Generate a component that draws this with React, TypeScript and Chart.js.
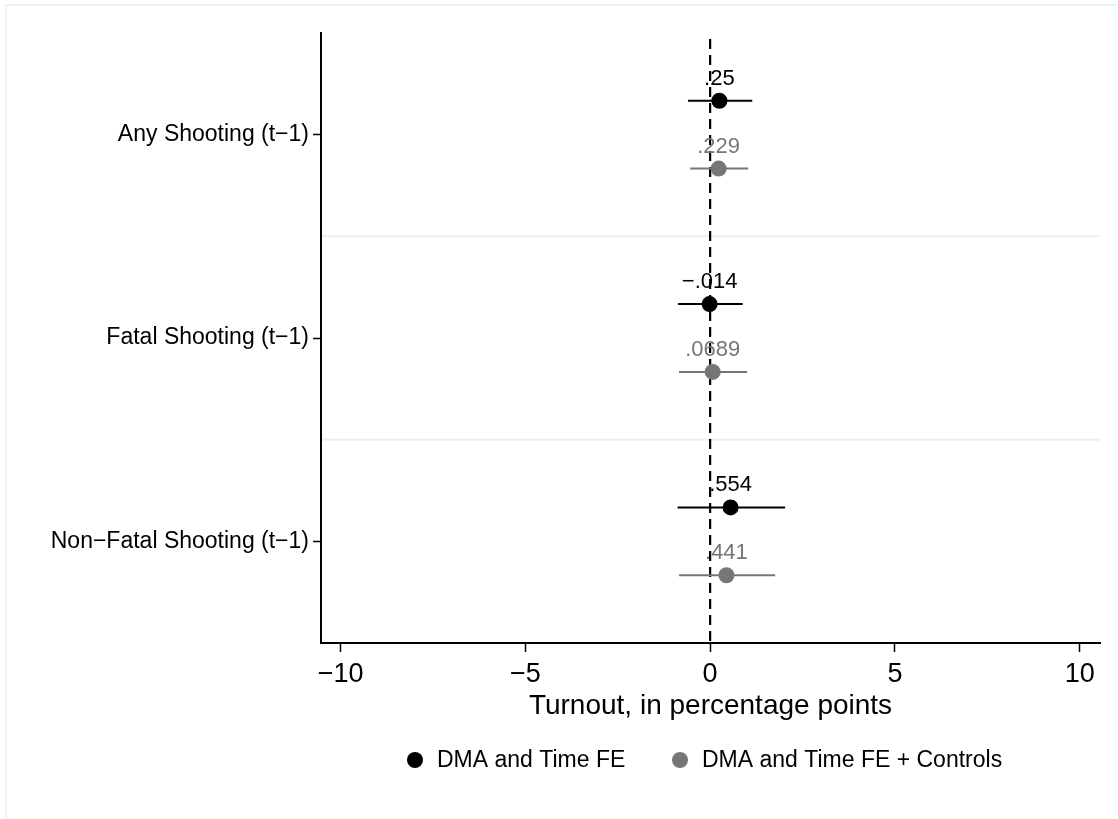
import React, { useEffect, useRef } from "react";
import { Chart, registerables } from "chart.js";

Chart.register(...registerables);

const categories = ["Any Shooting (t−1)", "Fatal Shooting (t−1)", "Non−Fatal Shooting (t−1)"];
const seriesNames = ["DMA and Time FE", "DMA and Time FE + Controls"];
const feValues = [0.25, -0.014, 0.554];
const feLow = [-0.6, -0.87, -0.88];
const feHigh = [1.14, 0.88, 2.03];
const ctrlValues = [0.229, 0.0689, 0.441];
const ctrlLow = [-0.54, -0.84, -0.84];
const ctrlHigh = [1.03, 1.0, 1.76];
const feLabels = [".25", "−.014", ".554"];
const ctrlLabels = [".229", ".0689", ".441"];
const xTicks = [-10, -5, 0, 5, 10];

const FONT = "'Liberation Sans', Arial, Helvetica, sans-serif";
const BLACK = "#000000";
const GRAY = "#767676";
const SEP = "#e9f0f2";
const OFFSET = 1 / 6;

export default function App() {
  const ref = useRef<HTMLCanvasElement>(null);

  useEffect(() => {
    document.body.style.margin = "0";
    const canvas = ref.current;
    if (!canvas) return;

    const ciSets: any[] = [];
    categories.forEach((_, i) => {
      ciSets.push({
        type: "line",
        data: [
          { x: feLow[i], y: i + 1 - OFFSET },
          { x: feHigh[i], y: i + 1 - OFFSET },
        ],
        borderColor: BLACK,
        borderWidth: 2,
        pointRadius: 0,
        showLine: true,
        order: 2,
      });
      ciSets.push({
        type: "line",
        data: [
          { x: ctrlLow[i], y: i + 1 + OFFSET },
          { x: ctrlHigh[i], y: i + 1 + OFFSET },
        ],
        borderColor: GRAY,
        borderWidth: 2,
        pointRadius: 0,
        showLine: true,
        order: 2,
      });
    });

    const decorations = {
      id: "decorations",
      beforeDatasetsDraw(chart: any) {
        const { ctx, chartArea, scales } = chart;
        const x = scales.x;
        const y = scales.y;
        ctx.save();
        ctx.strokeStyle = SEP;
        ctx.lineWidth = 2;
        [1.5, 2.5].forEach((v) => {
          const py = y.getPixelForValue(v);
          ctx.beginPath();
          ctx.moveTo(chartArea.left + 1, py);
          ctx.lineTo(chartArea.right, py);
          ctx.stroke();
        });
        const px = x.getPixelForValue(0);
        ctx.strokeStyle = BLACK;
        ctx.lineWidth = 2.2;
        ctx.setLineDash([10, 6]);
        ctx.beginPath();
        ctx.moveTo(px, chartArea.top + 6);
        ctx.lineTo(px, chartArea.bottom);
        ctx.stroke();
        ctx.restore();
      },
      afterDraw(chart: any) {
        const { ctx, chartArea } = chart;
        ctx.save();
        // outer frame
        ctx.strokeStyle = "#edf2f4";
        ctx.lineWidth = 2;
        ctx.beginPath();
        ctx.moveTo(6, 819);
        ctx.lineTo(6, 5);
        ctx.lineTo(1118, 5);
        ctx.stroke();

        // point labels
        const drawLabels = (dsIndex: number, labels: string[], color: string) => {
          const meta = chart.getDatasetMeta(dsIndex);
          ctx.fillStyle = color;
          ctx.font = `22px ${FONT}`;
          ctx.textAlign = "center";
          ctx.textBaseline = "alphabetic";
          meta.data.forEach((pt: any, j: number) => {
            ctx.fillText(labels[j], pt.x, pt.y - 16);
          });
        };
        drawLabels(0, feLabels, BLACK);
        drawLabels(1, ctrlLabels, GRAY);

        // axis title
        ctx.fillStyle = BLACK;
        ctx.font = `28px ${FONT}`;
        ctx.textAlign = "center";
        ctx.textBaseline = "middle";
        ctx.fillText("Turnout, in percentage points", (chartArea.left + chartArea.right) / 2, 706);

        // legend
        const ly = 760;
        const items = [
          { x: 415, color: BLACK, text: seriesNames[0] },
          { x: 680, color: GRAY, text: seriesNames[1] },
        ];
        ctx.font = `23px ${FONT}`;
        ctx.textAlign = "left";
        items.forEach((it) => {
          ctx.fillStyle = it.color;
          ctx.beginPath();
          ctx.arc(it.x, ly, 8, 0, Math.PI * 2);
          ctx.fill();
          ctx.fillStyle = BLACK;
          ctx.fillText(it.text, it.x + 22, ly + 1);
        });
        ctx.restore();
      },
    };

    const chart = new Chart(canvas, {
      type: "scatter",
      data: {
        datasets: [
          {
            label: seriesNames[0],
            data: feValues.map((v, i) => ({ x: v, y: i + 1 - OFFSET })),
            backgroundColor: BLACK,
            borderColor: BLACK,
            pointRadius: 8,
            pointBorderWidth: 0,
            order: 0,
          },
          {
            label: seriesNames[1],
            data: ctrlValues.map((v, i) => ({ x: v, y: i + 1 + OFFSET })),
            backgroundColor: GRAY,
            borderColor: GRAY,
            pointRadius: 8,
            pointBorderWidth: 0,
            order: 1,
          },
          ...ciSets,
        ],
      },
      options: {
        responsive: false,
        animation: false,
        devicePixelRatio: 1,
        layout: { padding: { left: 0, right: 18, top: 33, bottom: 0 } },
        plugins: {
          legend: { display: false },
          tooltip: { enabled: false },
        },
        scales: {
          x: {
            type: "linear",
            min: -10.53,
            max: 10.55,
            afterBuildTicks: (scale: any) => {
              scale.ticks = xTicks.map((v) => ({ value: v }));
            },
            afterFit: (scale: any) => {
              scale.height = 176;
            },
            ticks: {
              autoSkip: false,
              maxRotation: 0,
              color: BLACK,
              font: { family: FONT, size: 27 },
              padding: 6,
              callback: (v: any) => String(v).replace("-", "−"),
            },
            grid: {
              display: true,
              drawOnChartArea: false,
              drawTicks: true,
              tickLength: 9,
              tickColor: BLACK,
              tickWidth: 1.5,
            },
            border: { display: true, color: BLACK, width: 2 },
          },
          y: {
            type: "linear",
            reverse: true,
            min: 0.5,
            max: 3.5,
            afterBuildTicks: (scale: any) => {
              scale.ticks = [1, 2, 3].map((v) => ({ value: v }));
            },
            afterFit: (scale: any) => {
              scale.width = 321;
            },
            ticks: {
              autoSkip: false,
              color: BLACK,
              font: { family: FONT, size: 23 },
              padding: 4,
              callback: (v: any) => categories[Math.round(v) - 1] ?? "",
            },
            grid: {
              display: true,
              drawOnChartArea: false,
              drawTicks: true,
              tickLength: 8,
              tickColor: BLACK,
              tickWidth: 1.5,
            },
            border: { display: true, color: BLACK, width: 2 },
          },
        },
      },
      plugins: [decorations],
    } as any);

    return () => chart.destroy();
  }, []);

  return (
    <div style={{ position: "absolute", left: 0, top: 0, width: 1118, height: 819, background: "#fff" }}>
      <canvas ref={ref} width={1118} height={819} style={{ display: "block" }} />
    </div>
  );
}
